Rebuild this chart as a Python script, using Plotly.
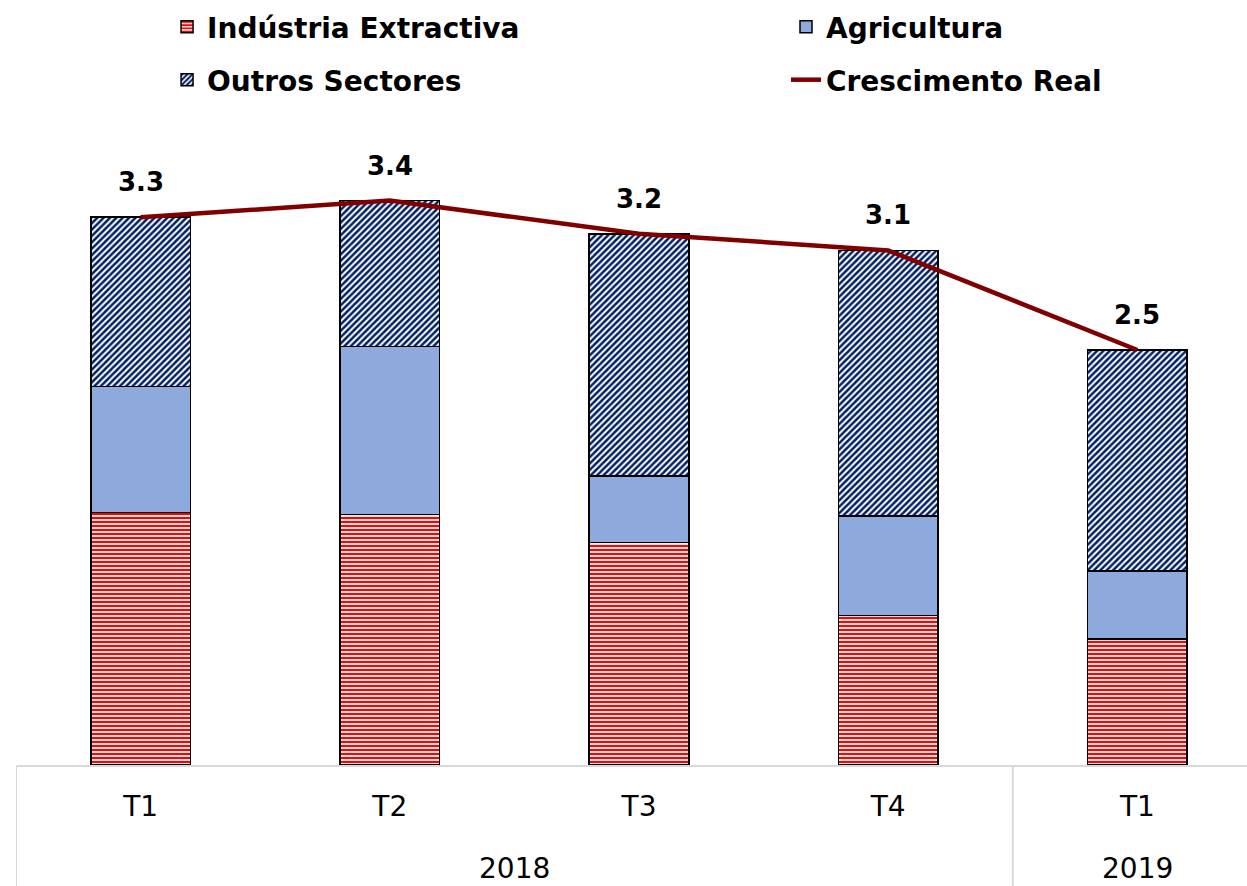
import plotly.graph_objects as go

years = ["2018", "2018", "2018", "2018", "2019"]
quarters = ["T1", "T2", "T3", "T4", "T1"]

industria = [1.52, 1.51, 1.34, 0.90, 0.76]
agricultura = [0.76, 1.01, 0.40, 0.60, 0.41]
outros = [1.02, 0.88, 1.46, 1.60, 1.33]
crescimento = [3.3, 3.4, 3.2, 3.1, 2.5]

FONT = "DejaVu Sans"
x = [f"{y} {q}" for y, q in zip(years, quarters)]
bar_line = dict(color="black", width=1.5)

fig = go.Figure()
fig.add_trace(go.Bar(
    x=x, y=industria, name="Indústria Extractiva", legend="legend",
    marker=dict(line=bar_line, pattern=dict(shape="-", fgcolor="#FF0000", fgopacity=1,
                                            bgcolor="white", size=4, solidity=0.55)),
))
fig.add_trace(go.Bar(
    x=x, y=agricultura, name="Agricultura", legend="legend2",
    marker=dict(color="#8EA9DB", line=bar_line),
))
fig.add_trace(go.Bar(
    x=x, y=outros, name="Outros Sectores", legend="legend3",
    marker=dict(line=bar_line, pattern=dict(shape="/", fgcolor="#002060", fgopacity=1,
                                            bgcolor="white", size=4.5, solidity=0.55)),
))
fig.add_trace(go.Scatter(
    x=x, y=crescimento, name="Crescimento Real", legend="legend4",
    mode="lines", line=dict(color="#800000", width=4.5),
))

# rótulos do crescimento por cima da linha
for i, v in enumerate(crescimento):
    fig.add_annotation(x=i, y=v, text=f"<b>{v:.1f}</b>", showarrow=False, yshift=35,
                       font=dict(family=FONT, size=26, color="black"))

# anos por baixo dos trimestres, e separadores entre os anos
groups = {}
for i, y in enumerate(years):
    groups.setdefault(y, []).append(i)
for y, idx in groups.items():
    fig.add_annotation(x=sum(idx) / len(idx), y=0, yref="paper", yanchor="middle", yshift=-103,
                       text=y, showarrow=False, font=dict(family=FONT, size=28, color="black"))
    fig.add_shape(type="line", x0=idx[0] - 0.5, x1=idx[0] - 0.5, y0=0, y1=-0.2,
                  xref="x", yref="paper", line=dict(color="#D9D9D9", width=2))

legend_style = dict(orientation="h", xanchor="left", yanchor="middle", bgcolor="rgba(0,0,0,0)",
                    font=dict(family=FONT, size=28, color="black", weight="bold"))
col1, col2 = 0.1227, 0.6255
row1, row2 = 1 + (140 - 27) / 625, 1 + (140 - 80) / 625

fig.update_layout(
    width=1247, height=886,
    barmode="stack", bargap=0.6,
    plot_bgcolor="white", paper_bgcolor="white",
    margin=dict(l=16, r=0, t=140, b=121, autoexpand=False),
    showlegend=True,
    legend=dict(legend_style, x=col1, y=row1),
    legend2=dict(legend_style, x=col2, y=row1),
    legend3=dict(legend_style, x=col1, y=row2),
    legend4=dict(legend_style, x=col2, y=row2),
    xaxis=dict(type="category", range=[-0.5, 4.44], showline=True, linecolor="#D9D9D9",
               linewidth=2, ticks="outside", ticklen=15, tickcolor="rgba(0,0,0,0)",
               tickvals=x, ticktext=quarters, showgrid=False,
               tickfont=dict(family=FONT, size=28, color="black")),
    yaxis=dict(range=[0, 3.765], visible=False, showgrid=False, zeroline=False),
)

# sem a margem por defeito do <body>, para a figura ocupar a janela toda
fig.write_html("out.html", config={"displayModeBar": False},
               post_script="document.body.style.margin='0';")
